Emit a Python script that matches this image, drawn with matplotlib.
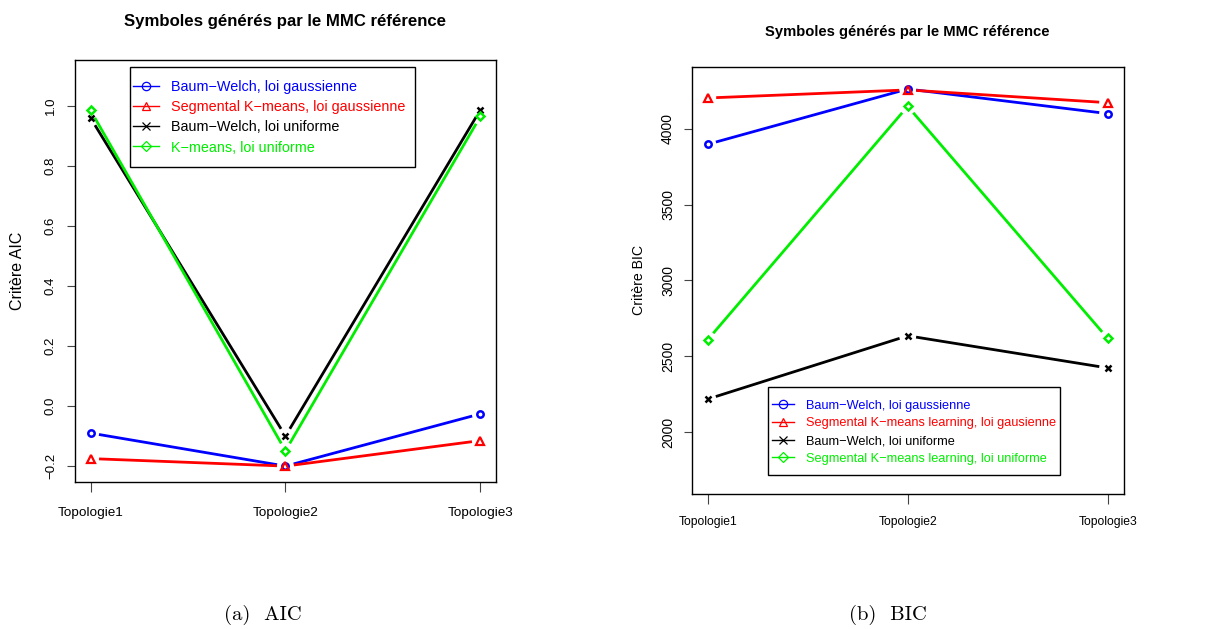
import matplotlib
matplotlib.use("Agg")
import matplotlib.pyplot as plt
from matplotlib.lines import Line2D
from matplotlib.path import Path
import numpy as np

plt.rcParams['font.family'] = ['Liberation Sans', 'DejaVu Sans']

# ---------------- data ----------------
topologies = ["Topologie1", "Topologie2", "Topologie3"]

# AIC panel
aic_bw_gauss = [-0.09, -0.20, -0.026]
aic_km_gauss = [-0.175, -0.20, -0.115]
aic_bw_unif = [0.96, -0.10, 0.987]
aic_km_unif = [0.985, -0.149, 0.965]
aic_labels = ["Baum\u2212Welch, loi gaussienne",
              "Segmental K\u2212means, loi gaussienne",
              "Baum\u2212Welch, loi uniforme",
              "K\u2212means, loi uniforme"]
aic_yticks = [-0.2, 0.0, 0.2, 0.4, 0.6, 0.8, 1.0]
aic_yticklabels = ["\u22120.2", "0.0", "0.2", "0.4", "0.6", "0.8", "1.0"]

# BIC panel
bic_bw_gauss = [3897, 4261, 4099]
bic_km_gauss = [4202, 4255, 4171]
bic_bw_unif = [2219, 2636, 2424]
bic_km_unif = [2610, 4147, 2619]
bic_labels = ["Baum\u2212Welch, loi gaussienne",
              "Segmental K\u2212means learning, loi gausienne",
              "Baum\u2212Welch, loi uniforme",
              "Segmental K\u2212means learning, loi uniforme"]
bic_yticks = [2000, 2500, 3000, 3500, 4000]
bic_yticklabels = ["2000", "2500", "3000", "3500", "4000"]

colors = ["#0000FF", "#FF0000", "#000000", "#00EE00"]
markers = ["o", "^", "x", "D"]
msizes = [4.6, 5.6, 5.0, 4.3]
mews = [1.8, 1.6, 1.8, 1.8]

fig = plt.figure(figsize=(12.21, 6.29), dpi=100)
axL = fig.add_axes([0.0614, 0.2337, 0.3448, 0.6709])
axR = fig.add_axes([0.5665, 0.2151, 0.3538, 0.6784])


def setup(ax, ylim, yticks, yticklabels, ytickfs, xtickfs, xpad, ypad):
    ax.set_xlim(0.92, 3.08)
    ax.set_ylim(*ylim)
    ax.set_xticks([1, 2, 3])
    ax.set_xticklabels(topologies, fontsize=xtickfs)
    ax.set_yticks(yticks)
    ax.set_yticklabels(yticklabels, fontsize=ytickfs, rotation=90, va="center")
    ax.tick_params(axis="x", direction="out", length=7, width=0.8, pad=xpad,
                   colors="#444444", labelcolor="black")
    ax.tick_params(axis="y", direction="out", length=6, width=0.8, pad=ypad,
                   colors="#444444", labelcolor="black")
    for s in ax.spines.values():
        s.set_linewidth(1.0)
        s.set_color("black")


def draw_series(ax, ys, color, marker, ms, mew, gap_px=8.5):
    xs = np.arange(1, len(ys) + 1, dtype=float)
    pts = ax.transData.transform(np.column_stack([xs, ys]))
    inv = ax.transData.inverted()
    for i in range(len(ys) - 1):
        p0, p1 = pts[i], pts[i + 1]
        d = p1 - p0
        L = np.hypot(*d)
        if L <= 2 * gap_px:
            continue
        u = d / L
        a = inv.transform(p0 + u * gap_px)
        b = inv.transform(p1 - u * gap_px)
        ax.plot([a[0], b[0]], [a[1], b[1]], color=color, lw=2.0,
                solid_capstyle="butt", zorder=2)
    ax.plot(xs, ys, linestyle="none", marker=marker, ms=ms, mfc="none",
            mec=color, mew=mew, zorder=3)


setup(axL, (-0.253, 1.153), aic_yticks, aic_yticklabels, 9.5, 9.7, 11, 7)
setup(axR, (1596, 4406), bic_yticks, bic_yticklabels, 10.0, 8.7, 9, 6)

aic_series = [aic_bw_gauss, aic_km_gauss, aic_bw_unif, aic_km_unif]
bic_series = [bic_bw_gauss, bic_km_gauss, bic_bw_unif, bic_km_unif]

for ys, c, m, ms, mw in zip(aic_series, colors, markers, msizes, mews):
    draw_series(axL, ys, c, m, ms, mw)
for ys, c, m, ms, mw in zip(bic_series, colors, markers, msizes, mews):
    draw_series(axR, ys, c, m, ms, mw)

axL.set_ylabel("Crit\u00e8re AIC", fontsize=11.5, va="center")
axL.yaxis.set_label_coords(-0.136, 0.5)
axR.set_ylabel("Crit\u00e8re BIC", fontsize=10.2, va="center")
axR.yaxis.set_label_coords(-0.122, 0.5)


def make_handles(labels):
    hs = []
    for lab, c, m in zip(labels, colors, markers):
        hs.append(Line2D([0], [0], color=c, lw=1.0, marker=m, ms=6 if m != "D" else 5,
                         mfc="none", mec=c, mew=0.9, label=lab))
    return hs


def padded_box(left, right, top, bottom):
    def style(x0, y0, width, height, mutation_size):
        X0, X1 = x0 - left, x0 + width + right
        Y0, Y1 = y0 - bottom, y0 + height + top
        return Path([(X0, Y0), (X1, Y0), (X1, Y1), (X0, Y1), (X0, Y0)], closed=True)
    return style


legL = axL.legend(handles=make_handles(aic_labels), loc="upper left",
                  bbox_to_anchor=(0.1188, 0.9704), fontsize=10.35,
                  frameon=True, fancybox=False, edgecolor="black",
                  framealpha=1, borderaxespad=0, borderpad=0.55,
                  handlelength=1.85, handletextpad=0.8, labelspacing=0.42,
                  labelcolor="linecolor")
legL.get_frame().set_linewidth(1.0)
legL.get_frame().set_boxstyle(padded_box(-5, 2, 5.5, 4.5))

legR = axR.legend(handles=make_handles(bic_labels), loc="upper left",
                  bbox_to_anchor=(0.1713, 0.2348), fontsize=9.15,
                  frameon=True, fancybox=False, edgecolor="black",
                  framealpha=1, borderaxespad=0, borderpad=0.5,
                  handlelength=1.75, handletextpad=0.9, labelspacing=0.44,
                  labelcolor="linecolor")
legR.get_frame().set_linewidth(1.0)
legR.get_frame().set_boxstyle(padded_box(-2, -2.7, 6.2, 4))

fig.text(0.2334, 0.9666, "Symboles g\u00e9n\u00e9r\u00e9s par le MMC r\u00e9f\u00e9rence",
         ha="center", va="center", fontsize=12.1, fontweight="bold")
fig.text(0.7428, 0.949, "Symboles g\u00e9n\u00e9r\u00e9s par le MMC r\u00e9f\u00e9rence",
         ha="center", va="center", fontsize=10.6, fontweight="bold")

fig.text(0.2154, 0.022, "(a)  AIC", ha="center", va="center",
         fontsize=14.8, family=["cmr10", "DejaVu Serif"])
fig.text(0.727, 0.022, "(b)  BIC", ha="center", va="center",
         fontsize=14.8, family=["cmr10", "DejaVu Serif"])

fig.savefig("out.png", dpi=100)
